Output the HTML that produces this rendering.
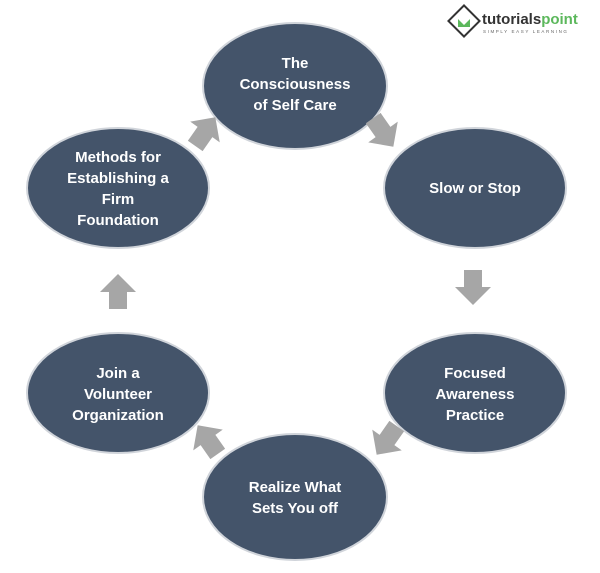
<!DOCTYPE html>
<html><head><style>body{margin:0;background:#fff}svg{display:block}</style></head><body>
<svg width="600" height="573" viewBox="0 0 600 573" xmlns="http://www.w3.org/2000/svg">
<defs><polygon id="a" points="-9,-17 9,-17 9,0 18,0 0,18 -18,0 -9,0" fill="#a6a6a6"/></defs>
<g fill="#44546a" stroke="#d0d4da" stroke-width="2">
<ellipse cx="295" cy="86" rx="92" ry="63"/>
<ellipse cx="475" cy="188" rx="91" ry="60"/>
<ellipse cx="475" cy="393" rx="91" ry="60"/>
<ellipse cx="295" cy="497" rx="92" ry="63"/>
<ellipse cx="118" cy="393" rx="91" ry="60"/>
<ellipse cx="118" cy="188" rx="91" ry="60"/>
</g>
<use href="#a" transform="translate(205,132) rotate(-145)"/>
<use href="#a" transform="translate(383,132) rotate(-35)"/>
<use href="#a" transform="translate(473,287)"/>
<use href="#a" transform="translate(387,440) rotate(35)"/>
<use href="#a" transform="translate(208,440) rotate(145)"/>
<use href="#a" transform="translate(118,292) rotate(180)"/>
<g font-family="Liberation Sans, sans-serif" font-weight="bold" font-size="15" fill="#fff" text-anchor="middle">
<text x="295" y="68">The</text><text x="295" y="89">Consciousness</text><text x="295" y="110">of Self Care</text>
<text x="475" y="193">Slow or Stop</text>
<text x="475" y="378">Focused</text><text x="475" y="399">Awareness</text><text x="475" y="420">Practice</text>
<text x="295" y="492">Realize What</text><text x="295" y="513">Sets You  off</text>
<text x="118" y="378">Join a</text><text x="118" y="399">Volunteer</text><text x="118" y="420">Organization</text>
<text x="118" y="162">Methods for</text><text x="118" y="183">Establishing a</text><text x="118" y="204">Firm</text><text x="118" y="225">Foundation</text>
</g>
<g transform="translate(464,21)">
<rect x="-11" y="-11" width="22" height="22" transform="rotate(45)" fill="#fff" stroke="#333" stroke-width="2"/>
<path d="M-6,-2 L0,4 L6,-2 L6,6 L-6,6Z" fill="#5cb85c"/>
</g>
<text x="482" y="24" font-family="Liberation Sans, sans-serif" font-weight="bold" font-size="15" fill="#333">tutorials<tspan fill="#5cb85c">point</tspan></text>
<text x="483" y="33" font-family="Liberation Sans, sans-serif" font-size="4.5" fill="#666" letter-spacing="1.6">SIMPLY EASY LEARNING</text>
</svg>
</body></html>
